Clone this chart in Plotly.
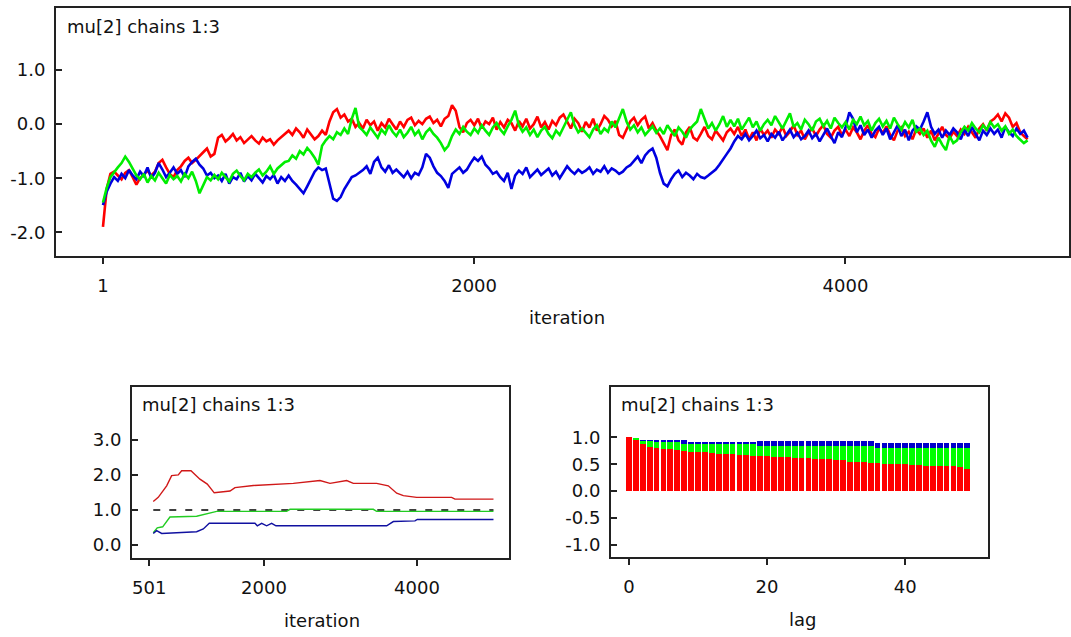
import plotly.graph_objects as go

# ---------------- trace data: mu[2], three chains, thinned every 20 iterations ----------------
chain_red = [
    -1.90, -1.20, -0.92, -0.88, -0.95, -1.02, -0.90, -0.85, -0.98, -1.12,
    -1.00, -0.93, -0.86, -0.95, -0.88, -0.72, -0.66, -0.80, -0.92, -0.98,
    -0.85, -0.78, -0.68, -0.62, -0.72, -0.66, -0.58, -0.52, -0.45, -0.60,
    -0.55, -0.25, -0.20, -0.32, -0.26, -0.18, -0.30, -0.24, -0.35, -0.28,
    -0.22, -0.30, -0.36, -0.25, -0.32, -0.28, -0.38, -0.30, -0.24, -0.18,
    -0.12, -0.20, -0.08, -0.15, -0.25, -0.10, -0.18, -0.28, -0.22, -0.12,
    -0.20, 0.05, 0.22, 0.28, 0.12, 0.18, 0.05, 0.10, -0.05, 0.02,
    -0.08, 0.08, -0.02, 0.05, -0.12, 0.02, -0.06, 0.10, 0.00, -0.10,
    0.05, -0.05, 0.08, 0.12, -0.02, 0.06, 0.00, 0.10, 0.14, 0.02,
    0.08, -0.04, 0.10, 0.15, 0.35, 0.25, -0.05, -0.15, 0.02, 0.08,
    -0.02, 0.10, -0.08, 0.05, 0.00, 0.12, -0.10, 0.04, -0.06, 0.08,
    0.02, -0.12, 0.06, -0.04, 0.10, -0.08, 0.00, 0.14, -0.06, 0.04,
    -0.10, 0.06, -0.02, 0.12, 0.18, 0.05, -0.08, 0.10, 0.02, -0.14,
    0.04, -0.06, 0.10, -0.12, 0.00, 0.15, 0.08, -0.04, 0.06, -0.20,
    -0.25, -0.10, 0.05, 0.12, -0.02, 0.08, 0.14, -0.08, 0.02, -0.12,
    -0.22, -0.35, -0.48, -0.20, -0.10, -0.30, -0.38, -0.15, -0.05, -0.25,
    -0.30, -0.18, -0.05, -0.22, -0.28, -0.12, -0.20, -0.30, -0.15, -0.08,
    -0.18, -0.05, -0.22, -0.10, -0.28, -0.15, -0.30, -0.08, -0.20, -0.12,
    -0.25, -0.10, -0.18, -0.05, -0.22, -0.14, -0.02, -0.20, -0.12, -0.28,
    -0.15, -0.08, -0.22, -0.10, -0.02, -0.18, -0.25, -0.12, -0.05, -0.20,
    -0.10, -0.22, -0.06, -0.15, -0.28, -0.12, -0.02, -0.18, -0.24, -0.08,
    -0.16, -0.04, -0.20, -0.30, -0.12, -0.06, -0.22, -0.14, -0.28, -0.10,
    -0.18, -0.08, -0.25, -0.12, -0.30, -0.16, -0.05, -0.20, -0.26, -0.14,
    -0.22, -0.10, -0.18, -0.05, -0.15, -0.25, -0.08, 0.00, -0.12, 0.05,
    0.10, 0.18, 0.05, 0.20, 0.12, -0.05, 0.02, -0.15, -0.22, -0.28,
]

chain_blue = [
    -1.50, -1.25, -1.10, -0.98, -1.05, -0.92, -1.00, -0.85, -0.95, -1.02,
    -0.88, -0.96, -0.80, -1.00, -0.90, -0.72, -0.84, -0.98, -0.90, -0.80,
    -0.92, -0.85, -0.98, -0.78, -0.70, -0.64, -0.75, -0.82, -0.95, -0.90,
    -1.00, -0.95, -1.05, -0.92, -1.10, -0.98, -1.02, -0.90, -1.06, -0.96,
    -1.04, -0.92, -1.00, -1.08, -0.96, -1.02, -0.94, -1.10, -0.98, -1.05,
    -0.95, -1.05, -1.12, -1.20, -1.28, -1.15, -1.02, -0.88, -0.80, -0.85,
    -0.82, -1.10, -1.38, -1.42, -1.35, -1.20, -1.08, -0.98, -0.95, -0.90,
    -0.85, -0.78, -0.92, -0.70, -0.62, -0.80, -0.88, -0.76, -0.90, -0.84,
    -0.92, -0.98, -0.88, -1.00, -0.90, -0.94, -0.80, -0.55, -0.62, -0.78,
    -0.90, -0.96, -1.05, -1.18, -0.92, -0.86, -0.80, -0.90, -0.84, -0.72,
    -0.62, -0.68, -0.60, -0.75, -0.82, -0.92, -0.88, -0.98, -1.05, -0.90,
    -1.20, -0.95, -0.86, -0.92, -0.80, -0.98, -0.90, -0.84, -0.94, -0.88,
    -0.82, -0.95, -0.88, -1.00, -0.90, -0.78, -0.86, -0.92, -0.84, -0.90,
    -0.86, -0.80, -0.92, -0.84, -0.88, -0.78, -0.90, -0.82, -0.86, -0.92,
    -0.88, -0.80, -0.76, -0.68, -0.60, -0.72, -0.58, -0.50, -0.45, -0.62,
    -0.90, -1.10, -1.15, -1.02, -0.92, -0.86, -0.98, -0.90, -0.95, -1.02,
    -0.92, -0.98, -1.00, -0.95, -0.90, -0.84, -0.75, -0.66, -0.55, -0.45,
    -0.32, -0.22, -0.28, -0.18, -0.30, -0.22, -0.12, -0.26, -0.20, -0.32,
    -0.18, -0.25, -0.14, -0.30, -0.20, -0.10, -0.24, -0.16, -0.28, -0.22,
    -0.12, -0.26, -0.18, -0.32, -0.20, -0.08, -0.22, -0.35, -0.15, -0.24,
    -0.05, 0.22, 0.10, -0.15, -0.02, -0.20, -0.10, -0.25, -0.12, -0.05,
    -0.20, -0.08, -0.28, -0.15, -0.02, -0.22, -0.10, -0.30, -0.12, -0.04,
    -0.10, 0.05, 0.22, -0.05, -0.18, -0.10, -0.25, -0.12, -0.20, -0.08,
    -0.15, -0.28, -0.10, -0.22, -0.05, -0.18, -0.30, -0.12, -0.20, -0.08,
    -0.18, -0.10, -0.25, -0.05, -0.15, -0.22, -0.08, -0.18, -0.12, -0.25,
]

chain_green = [
    -1.45, -1.18, -0.98, -0.88, -0.80, -0.72, -0.60, -0.70, -0.82, -0.95,
    -1.02, -0.92, -1.08, -0.96, -1.04, -0.90, -1.00, -1.10, -0.94, -1.02,
    -0.96, -1.06, -0.92, -1.00, -0.88, -1.05, -1.28, -1.12, -0.98, -1.04,
    -0.94, -1.02, -0.90, -0.98, -1.06, -0.92, -0.86, -0.96, -1.04, -0.92,
    -0.98, -0.90, -0.84, -0.95, -0.88, -0.78, -0.92, -0.82, -0.76, -0.70,
    -0.68, -0.58, -0.64, -0.50, -0.56, -0.44, -0.52, -0.62, -0.75, -0.40,
    -0.30, -0.22, -0.28, -0.15, -0.20, -0.08, -0.18, 0.10, 0.30, -0.05,
    -0.12, -0.20, -0.06, -0.15, -0.25, -0.10, -0.18, -0.02, -0.14, -0.22,
    -0.10, -0.24, -0.16, -0.05, -0.20, -0.12, -0.28, -0.15, -0.08, -0.18,
    -0.25, -0.35, -0.48, -0.40, -0.22, -0.10, -0.18, -0.05, -0.14, -0.20,
    -0.08, -0.16, -0.02, -0.12, -0.20, -0.06, 0.02, -0.10, -0.18, -0.04,
    0.08, 0.25, -0.02, -0.14, -0.06, -0.20, -0.10, -0.24, -0.12, -0.05,
    -0.18, -0.26, -0.12, -0.20, -0.05, 0.10, 0.22, -0.02, -0.15, -0.08,
    -0.16, -0.24, -0.10, -0.02, -0.18, -0.08, -0.14, 0.05, -0.06, 0.12,
    0.28, 0.05, -0.10, -0.02, -0.15, -0.06, -0.20, -0.12, -0.04, -0.16,
    -0.08, -0.18, -0.02, -0.12, -0.22, -0.06, -0.14, -0.25, -0.10, -0.02,
    0.05, 0.28, 0.10, -0.08, 0.02, -0.12, 0.00, 0.15, -0.05, 0.08,
    -0.04, 0.10, -0.10, 0.02, 0.12, -0.06, 0.05, -0.12, 0.00, 0.08,
    -0.02, 0.15, 0.04, -0.08, 0.06, 0.20, -0.05, 0.02, -0.10, 0.08,
    0.00, -0.12, 0.05, 0.10, -0.04, 0.06, -0.08, 0.12, 0.02, -0.06,
    0.04, -0.10, 0.08, 0.00, 0.14, -0.02, 0.06, -0.12, 0.02, 0.10,
    -0.04, 0.06, -0.08, 0.12, 0.00, -0.10, 0.04, -0.06, 0.08, -0.14,
    -0.08, -0.20, -0.12, -0.30, -0.42, -0.25, -0.38, -0.48, -0.22, -0.35,
    -0.30, -0.15, -0.05, -0.12, 0.02, -0.08, -0.15, -0.02, -0.10, 0.04,
    -0.06, 0.00, -0.12, -0.04, -0.18, -0.10, -0.22, -0.28, -0.35, -0.30,
]

THIN = 20
trace_ticks = [1, 2000, 4000]
trace_ticktext = ["1", "2000", "4000"]
trace_yticks = [1.0, 0.0, -1.0, -2.0]
trace_yticktext = ["1.0", "0.0", "-1.0", "-2.0"]

# ---------------- Brooks-Gelman-Rubin diagnostic ----------------
bgr_iter_red = [553, 618, 728, 793, 880, 924, 1046, 1163, 1259, 1350, 1556, 1621, 1861,
                2384, 2732, 2863, 3081, 3168, 3473, 3625, 3735, 3822, 3996, 4453, 4497, 5000]
bgr_ratio = [1.24, 1.36, 1.69, 1.98, 2.00, 2.12, 2.12, 1.88, 1.74, 1.49, 1.54, 1.64, 1.70,
             1.76, 1.84, 1.76, 1.84, 1.76, 1.76, 1.69, 1.48, 1.41, 1.36, 1.36, 1.31, 1.31]
bgr_iter_green = [553, 605, 676, 771, 1120, 1294, 1382, 2296, 2340, 3429, 3473, 5000]
bgr_pooled = [0.35, 0.49, 0.52, 0.80, 0.82, 0.91, 0.96, 0.96, 1.02, 1.02, 0.96, 0.96]
bgr_iter_blue = [553, 597, 663, 1120, 1207, 1285, 1882, 1913, 1970, 2035, 2100, 2157,
                 3604, 3691, 3974, 4004, 5000]
bgr_within = [0.33, 0.41, 0.33, 0.38, 0.46, 0.62, 0.62, 0.55, 0.62, 0.55, 0.62, 0.55,
              0.55, 0.67, 0.69, 0.73, 0.73]
bgr_ref_iter = [553, 5000]
bgr_ref_level = [1.0, 1.0]
bgr_ticks = [501, 2000, 4000]
bgr_ticktext = ["501", "2000", "4000"]
bgr_yticks = [0.0, 1.0, 2.0, 3.0]
bgr_yticktext = ["0.0", "1.0", "2.0", "3.0"]

# ---------------- autocorrelation ----------------
lags = list(range(50))
acf_blue = [1.00, 0.97, 0.96, 0.96, 0.96, 0.96, 0.96, 0.96, 0.95, 0.92,
            0.92, 0.92, 0.92, 0.92, 0.92, 0.92, 0.92, 0.92, 0.92, 0.93,
            0.93, 0.93, 0.93, 0.93, 0.93, 0.93, 0.93, 0.93, 0.93, 0.93,
            0.93, 0.93, 0.93, 0.93, 0.93, 0.93, 0.89, 0.89, 0.89, 0.89,
            0.89, 0.89, 0.89, 0.89, 0.89, 0.89, 0.89, 0.89, 0.89, 0.89]
acf_green = [1.00, 0.99, 0.93, 0.93, 0.92, 0.92, 0.92, 0.91, 0.88, 0.87,
             0.87, 0.87, 0.87, 0.87, 0.87, 0.87, 0.87, 0.87, 0.87, 0.84,
             0.84, 0.84, 0.84, 0.84, 0.84, 0.84, 0.84, 0.84, 0.84, 0.84,
             0.84, 0.84, 0.84, 0.84, 0.84, 0.84, 0.80, 0.80, 0.80, 0.80,
             0.80, 0.80, 0.80, 0.80, 0.80, 0.80, 0.80, 0.80, 0.80, 0.80]
acf_red = [1.00, 0.95, 0.88, 0.83, 0.80, 0.78, 0.78, 0.77, 0.75, 0.73,
           0.73, 0.72, 0.71, 0.70, 0.70, 0.69, 0.68, 0.67, 0.66, 0.66,
           0.65, 0.64, 0.63, 0.63, 0.62, 0.62, 0.61, 0.60, 0.59, 0.59,
           0.58, 0.57, 0.55, 0.54, 0.54, 0.53, 0.52, 0.51, 0.51, 0.50,
           0.50, 0.49, 0.48, 0.47, 0.47, 0.47, 0.46, 0.46, 0.45, 0.42]
acf_ticks = [0, 20, 40]
acf_ticktext = ["0", "20", "40"]
acf_yticks = [1.0, 0.5, 0.0, -0.5, -1.0]
acf_yticktext = ["1.0", "0.5", "0.0", "-0.5", "-1.0"]

panel_title = "mu[2] chains 1:3"

RED = "#ff0000"
BLUE = "#0000e0"
GREEN = "#00ee00"
FONT = "DejaVu Sans"
FS = 18
INK = "#111111"

fig = go.Figure()

# trace plot
for values, colour in ((chain_red, RED), (chain_blue, BLUE), (chain_green, GREEN)):
    fig.add_trace(go.Scatter(
        x=[1 + THIN * k for k in range(len(values))], y=values,
        mode="lines", line=dict(color=colour, width=2.6),
        xaxis="x", yaxis="y", showlegend=False, hoverinfo="skip"))

# BGR plot
fig.add_trace(go.Scatter(x=bgr_ref_iter, y=bgr_ref_level, mode="lines",
                         line=dict(color="#000000", width=1.6, dash="7px,9px"),
                         xaxis="x2", yaxis="y2", showlegend=False))
fig.add_trace(go.Scatter(x=bgr_iter_red, y=bgr_ratio, mode="lines",
                         line=dict(color="#d01818", width=1.4),
                         xaxis="x2", yaxis="y2", showlegend=False))
fig.add_trace(go.Scatter(x=bgr_iter_green, y=bgr_pooled, mode="lines",
                         line=dict(color="#22cc22", width=1.4),
                         xaxis="x2", yaxis="y2", showlegend=False))
fig.add_trace(go.Scatter(x=bgr_iter_blue, y=bgr_within, mode="lines",
                         line=dict(color="#1010a0", width=1.4),
                         xaxis="x2", yaxis="y2", showlegend=False))

# autocorrelation bars
for values, colour in ((acf_blue, "#0000cc"), (acf_green, "#00ff00"), (acf_red, RED)):
    fig.add_trace(go.Bar(x=lags, y=values, marker=dict(color=colour, line=dict(width=0)),
                         width=0.84, xaxis="x3", yaxis="y3", showlegend=False))

W, H = 1071, 637


def xdom(left, right):
    return [left / W, right / W]


def ydom(top, bottom):
    return [1 - bottom / H, 1 - top / H]


frame = dict(showline=True, mirror=True, linecolor="#222222", linewidth=2,
             showgrid=False, zeroline=False,
             tickfont=dict(family=FONT, size=FS, color=INK), tickcolor="#222222")

xcommon = dict(frame, ticks="outside", ticklen=6, tickwidth=1.5, ticklabelstandoff=6)
ycommon = dict(frame, ticks="inside", ticklen=6, tickwidth=1.5, ticklabelstandoff=5)

fig.update_layout(
    width=W, height=H,
    margin=dict(l=0, r=0, t=0, b=0),
    paper_bgcolor="white", plot_bgcolor="white",
    barmode="overlay", bargap=0,
    xaxis=dict(xcommon, domain=xdom(56, 1069), range=[-252, 5204], anchor="y",
               tickvals=trace_ticks, ticktext=trace_ticktext),
    yaxis=dict(ycommon, domain=ydom(8, 256), range=[-2.44, 2.15], anchor="x",
               tickvals=trace_yticks, ticktext=trace_yticktext),
    xaxis2=dict(xcommon, domain=xdom(132, 509), range=[275, 5203], anchor="y2",
                tickvals=bgr_ticks, ticktext=bgr_ticktext),
    yaxis2=dict(ycommon, domain=ydom(387, 558), range=[-0.37, 4.51], anchor="x2",
                tickvals=bgr_yticks, ticktext=bgr_yticktext),
    xaxis3=dict(xcommon, domain=xdom(611, 988), range=[-2.6, 52.0], anchor="y3",
                tickvals=acf_ticks, ticktext=acf_ticktext),
    yaxis3=dict(ycommon, domain=ydom(387, 557), range=[-1.23, 1.94], anchor="x3",
                tickvals=acf_yticks, ticktext=acf_yticktext),
)

text_font = dict(family=FONT, size=FS, color=INK)
labels = [
    (65, 26, panel_title, "left"),
    (567, 317, "iteration", "center"),
    (140, 404, panel_title, "left"),
    (322, 620, "iteration", "center"),
    (619, 405, panel_title, "left"),
    (802, 619, "lag", "center"),
]
for px, py, txt, anchor in labels:
    fig.add_annotation(x=px / W, y=1 - py / H, xref="paper", yref="paper",
                       text=txt, showarrow=False, xanchor=anchor, yanchor="middle",
                       font=text_font)

fig.write_html("out.html")
